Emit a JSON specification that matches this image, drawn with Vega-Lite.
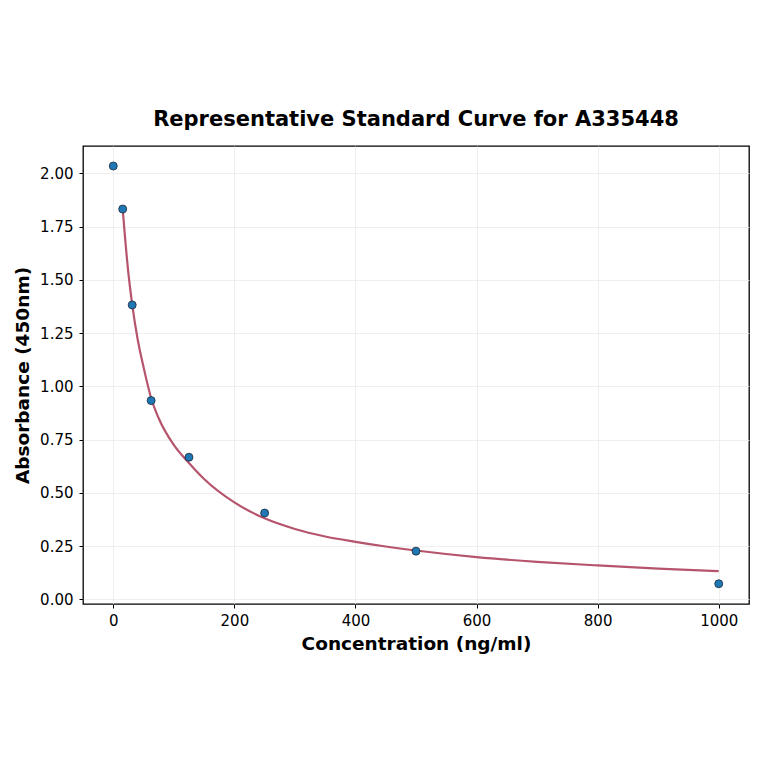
{
  "$schema": "https://vega.github.io/schema/vega-lite/v6.json",
  "width": 666,
  "height": 458,
  "autosize": "none",
  "padding": {"left": 83, "top": 146, "right": 15, "bottom": 160},
  "background": "white",
  "title": {
    "text": "Representative Standard Curve for A335448",
    "font": "DejaVu Sans",
    "fontSize": 21,
    "fontWeight": "bold",
    "color": "black",
    "offset": 16,
    "anchor": "middle"
  },
  "config": {
    "view": {"stroke": "black", "strokeWidth": 1.3},
    "axis": {
      "labelFont": "DejaVu Sans",
      "labelFontSize": 15,
      "labelColor": "black",
      "titleFont": "DejaVu Sans",
      "titleFontSize": 18.5,
      "titleFontWeight": "bold",
      "titleColor": "black",
      "domain": false,
      "tickColor": "black",
      "tickSize": 4,
      "tickWidth": 1,
      "gridColor": "#ebebeb",
      "gridWidth": 0.8
    }
  },
  "datasets": {
    "points": [
      {"conc": 0, "od": 2.034},
      {"conc": 15.6, "od": 1.832},
      {"conc": 31.25, "od": 1.382},
      {"conc": 62.5, "od": 0.933},
      {"conc": 125, "od": 0.667},
      {"conc": 250, "od": 0.405},
      {"conc": 500, "od": 0.226},
      {"conc": 1000, "od": 0.073}
    ],
    "curve": [
      {"conc": 15.6, "od": 1.83},
      {"conc": 20, "od": 1.68},
      {"conc": 25, "od": 1.53},
      {"conc": 31.25, "od": 1.385},
      {"conc": 40, "od": 1.225},
      {"conc": 50, "od": 1.09},
      {"conc": 62.5, "od": 0.945},
      {"conc": 75, "od": 0.85},
      {"conc": 100, "od": 0.725},
      {"conc": 125, "od": 0.64},
      {"conc": 150, "od": 0.565},
      {"conc": 200, "od": 0.455},
      {"conc": 250, "od": 0.38},
      {"conc": 300, "od": 0.33},
      {"conc": 350, "od": 0.295},
      {"conc": 400, "od": 0.27},
      {"conc": 450, "od": 0.248},
      {"conc": 500, "od": 0.229},
      {"conc": 600, "od": 0.198},
      {"conc": 700, "od": 0.176},
      {"conc": 800, "od": 0.159},
      {"conc": 900, "od": 0.144},
      {"conc": 1000, "od": 0.132}
    ]
  },
  "encoding": {
    "x": {
      "field": "conc",
      "type": "quantitative",
      "scale": {"domain": [-50, 1050], "nice": false, "zero": false},
      "axis": {"values": [0, 200, 400, 600, 800, 1000], "format": "d", "title": "Concentration (ng/ml)", "titlePadding": 6, "labelPadding": 5}
    },
    "y": {
      "field": "od",
      "type": "quantitative",
      "scale": {"domain": [-0.022, 2.128], "nice": false, "zero": false},
      "axis": {"values": [0, 0.25, 0.5, 0.75, 1, 1.25, 1.5, 1.75, 2], "format": ".2f", "title": "Absorbance (450nm)", "titlePadding": 7, "labelPadding": 6}
    }
  },
  "layer": [
    {
      "data": {"name": "curve"},
      "mark": {"type": "line", "color": "#b5546c", "strokeWidth": 2.2, "interpolate": "monotone"}
    },
    {
      "data": {"name": "points"},
      "mark": {"type": "point", "filled": true, "fill": "#1f77b4", "stroke": "#1a2a3a", "strokeWidth": 0.8, "opacity": 1, "size": 64}
    }
  ]
}
